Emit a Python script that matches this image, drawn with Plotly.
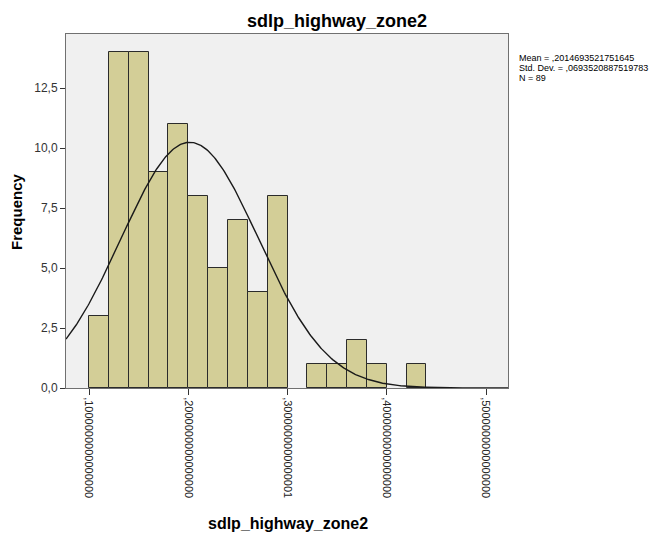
import numpy as np
import plotly.graph_objects as go

# Histogram bins (left edges, width 0.02) and counts
bin_left = [0.10, 0.12, 0.14, 0.16, 0.18, 0.20, 0.22, 0.24, 0.26, 0.28,
            0.30, 0.32, 0.34, 0.36, 0.38, 0.40, 0.42]
counts = [3, 14, 14, 9, 11, 8, 5, 7, 4, 8, 0, 1, 1, 2, 1, 0, 1]
bin_width = 0.02

# Summary statistics
mean_val = 0.2014693521751645
sd_val = 0.0693520887519783
n_val = 89
stats_text = ["Mean = ,2014693521751645",
              "Std. Dev. = ,0693520887519783",
              "N = 89"]

# Axis ticks
x_tickvals = [0.1, 0.2, 0.3, 0.4, 0.5]
x_ticktext = [",1000000000000000", ",2000000000000000", ",3000000000000001",
              ",4000000000000000", ",5000000000000000"]
y_tickvals = [0, 2.5, 5, 7.5, 10, 12.5]
y_ticktext = ["0,0", "2,5", "5,0", "7,5", "10,0", "12,5"]

W, H = 667, 536
L, R, T, B = 66, 508, 34, 388
x_range = [0.07683, 0.52217]
y_range = [0, 14.75]

def px(x):
    return (x - L) / (R - L)

def py(y):
    return (B - y) / (B - T)

FONT = "Liberation Sans, Arial, sans-serif"

fig = go.Figure()

bx = [b + bin_width / 2 for b, c in zip(bin_left, counts) if c > 0]
by = [c for c in counts if c > 0]
fig.add_trace(go.Bar(
    x=bx, y=by, width=bin_width,
    marker=dict(color="#d3ce97", line=dict(color="#2b2b2b", width=1)),
    hoverinfo="x+y", showlegend=False,
))

# Fitted normal curve scaled to counts
xc = np.linspace(x_range[0], x_range[1], 400)
yc = n_val * bin_width / (sd_val * np.sqrt(2 * np.pi)) * np.exp(-0.5 * ((xc - mean_val) / sd_val) ** 2)
fig.add_trace(go.Scatter(
    x=xc, y=yc, mode="lines",
    line=dict(color="#1a1a1a", width=1.4),
    hoverinfo="skip", showlegend=False,
))

annotations = [
    dict(text="<b>sdlp_highway_zone2</b>", x=px(337), y=py(21),
         font=dict(size=18, color="#000000", family=FONT)),
    dict(text="<b>sdlp_highway_zone2</b>", x=px(288), y=py(523),
         font=dict(size=16, color="#000000", family=FONT)),
    dict(text="<b>Frequency</b>", x=px(17), y=py(212), textangle=-90,
         font=dict(size=15, color="#000000", family=FONT)),
]
for i, line in enumerate(stats_text):
    annotations.append(dict(text=line, x=px(517), y=py(58 + 10 * i),
                            xanchor="left",
                            font=dict(size=9, color="#000000", family=FONT)))
for a in annotations:
    a.setdefault("xanchor", "center")
    a.update(xref="paper", yref="paper", yanchor="middle", showarrow=False)

fig.update_layout(
    width=W, height=H,
    margin=dict(l=L, r=W - R, t=T, b=H - B, pad=0),
    paper_bgcolor="white",
    plot_bgcolor="#f0f0f0",
    bargap=0,
    annotations=annotations,
    font=dict(family=FONT, color="#000000"),
    xaxis=dict(
        range=x_range, tickvals=x_tickvals, ticktext=x_ticktext,
        tickangle=90, ticks="outside", ticklen=6, tickcolor="#333333",
        tickfont=dict(size=11, color="#222222", family=FONT),
        showgrid=False, zeroline=False,
        showline=True, mirror=True, linecolor="#707070", linewidth=1,
    ),
    yaxis=dict(
        range=y_range, tickvals=y_tickvals, ticktext=y_ticktext,
        ticks="outside", ticklen=5, tickcolor="#333333",
        tickfont=dict(size=12, color="#333333", family=FONT),
        showgrid=False, zeroline=False,
        showline=True, mirror=True, linecolor="#707070", linewidth=1,
    ),
)

fig.write_html("out.html")
